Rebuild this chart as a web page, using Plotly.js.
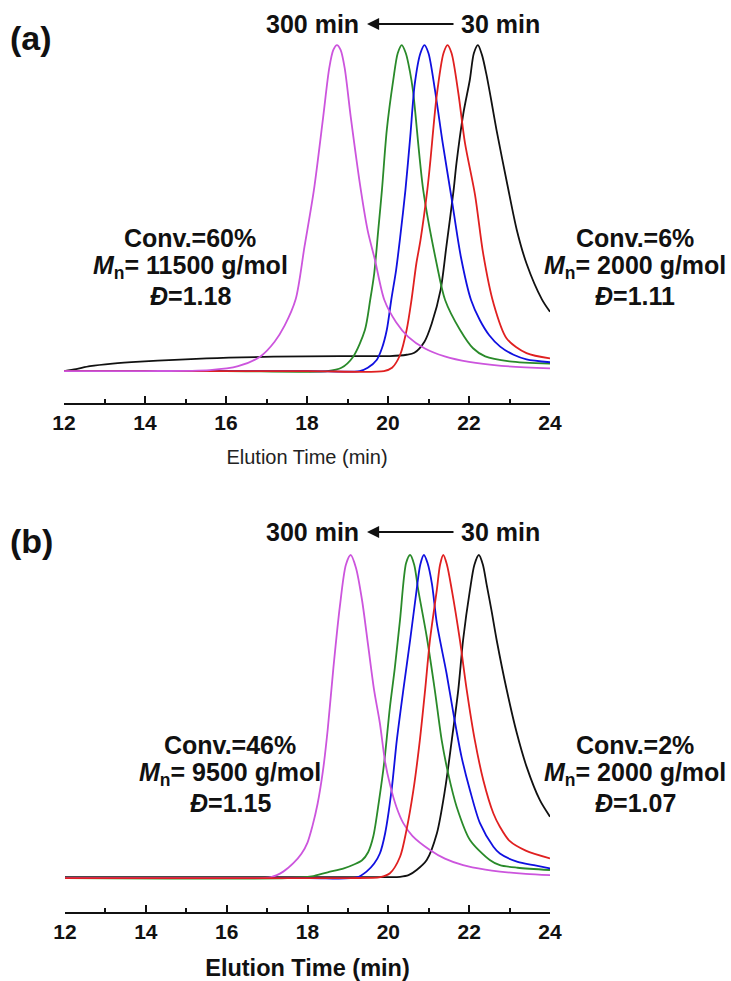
<!DOCTYPE html>
<html>
<head>
<meta charset="utf-8">
<script src="https://cdn.plot.ly/plotly-3.0.1.min.js"></script>
<style>html,body{margin:0;padding:0;background:#fff}#chart{width:731px;height:981px}</style>
</head>
<body>
<div id="chart"></div>
<script>
// ---------- Panel (a) data: elution time (min) and normalized RI intensity ----------
const aMagentaT = [12, 14, 15.6, 16.3, 16.85, 17.2, 17.45, 17.72, 17.94, 18.17, 18.4, 18.55, 18.65, 18.74, 18.83, 18.93, 19.08, 19.33, 19.5, 19.68, 19.91, 20.2, 20.5, 20.9, 21.4, 22.0, 22.8, 24];
const aMagentaV = [0, 0, 0.003, 0.015, 0.045, 0.09, 0.14, 0.22, 0.383, 0.555, 0.78, 0.93, 0.985, 1.0, 0.985, 0.93, 0.78, 0.555, 0.43, 0.34, 0.218, 0.15, 0.105, 0.07, 0.045, 0.028, 0.016, 0.008];
const aGreenT = [12, 16, 18.5, 18.85, 19.14, 19.43, 19.56, 19.66, 19.76, 19.85, 19.97, 20.13, 20.24, 20.34, 20.44, 20.54, 20.62, 20.87, 21.2, 21.41, 21.78, 22.1, 22.4, 23.0, 24];
const aGreenV = [0, 0, 0, 0.01, 0.044, 0.126, 0.218, 0.30, 0.433, 0.555, 0.739, 0.893, 0.975, 1.0, 0.975, 0.92, 0.857, 0.555, 0.33, 0.218, 0.126, 0.07, 0.045, 0.03, 0.023];
const aBlueT = [12, 18, 19.3, 19.5, 19.72, 19.85, 19.97, 20.08, 20.2, 20.3, 20.43, 20.55, 20.66, 20.8, 20.9, 21.0, 21.16, 21.35, 21.57, 21.8, 22.05, 22.27, 22.5, 22.77, 23.1, 23.42, 24];
const aBlueV = [0, 0, 0, 0.01, 0.034, 0.07, 0.126, 0.218, 0.31, 0.41, 0.555, 0.72, 0.88, 0.975, 1.0, 0.975, 0.862, 0.70, 0.53, 0.35, 0.218, 0.156, 0.11, 0.075, 0.05, 0.036, 0.027];
const aRedT = [12, 18, 19.9, 20.1, 20.3, 20.46, 20.58, 20.7, 20.8, 20.97, 21.04, 21.2, 21.37, 21.47, 21.57, 21.74, 21.9, 22.15, 22.35, 22.6, 22.93, 23.42, 24];
const aRedV = [0, 0, 0, 0.01, 0.05, 0.126, 0.218, 0.33, 0.40, 0.555, 0.637, 0.842, 0.975, 1.0, 0.975, 0.85, 0.70, 0.54, 0.36, 0.21, 0.10, 0.055, 0.039];
const aBlackT = [12, 12.3, 12.64, 13.2, 13.88, 15.52, 17.17, 18.81, 20.05, 20.46, 20.65, 20.9, 21.08, 21.3, 21.44, 21.62, 21.69, 21.86, 22.02, 22.12, 22.22, 22.32, 22.43, 22.55, 22.68, 22.95, 23.18, 23.42, 23.8, 24];
const aBlackV = [0, 0.006, 0.015, 0.023, 0.029, 0.039, 0.044, 0.046, 0.046, 0.05, 0.056, 0.09, 0.146, 0.25, 0.381, 0.555, 0.637, 0.79, 0.893, 0.975, 1.0, 0.97, 0.91, 0.83, 0.739, 0.57, 0.433, 0.33, 0.22, 0.182];

// ---------- Panel (b) data ----------
const bMagentaT = [12, 16, 17.1, 17.4, 17.65, 17.85, 18.0, 18.12, 18.25, 18.38, 18.5, 18.64, 18.8, 18.95, 19.07, 19.2, 19.35, 19.5, 19.65, 19.79, 19.92, 20.04, 20.2, 20.37, 20.6, 21.03, 21.4, 21.85, 22.4, 22.76, 23.4, 24];
const bMagentaV = [0, 0, 0.003, 0.02, 0.046, 0.075, 0.11, 0.16, 0.23, 0.33, 0.46, 0.65, 0.84, 0.97, 1.0, 0.96, 0.86, 0.72, 0.58, 0.48, 0.36, 0.29, 0.22, 0.17, 0.13, 0.087, 0.06, 0.04, 0.026, 0.02, 0.013, 0.009];
const bGreenT = [12, 17.5, 18.1, 18.5, 18.9, 19.15, 19.35, 19.5, 19.63, 19.77, 19.9, 20.04, 20.16, 20.29, 20.44, 20.54, 20.64, 20.74, 20.95, 21.15, 21.32, 21.48, 21.69, 22.02, 22.51, 22.76, 23.2, 24];
const bGreenV = [0, 0, 0.005, 0.018, 0.03, 0.042, 0.055, 0.08, 0.13, 0.24, 0.36, 0.53, 0.65, 0.80, 0.975, 1.0, 0.97, 0.892, 0.747, 0.582, 0.427, 0.324, 0.221, 0.118, 0.056, 0.04, 0.032, 0.025];
const bBlueT = [12, 18, 19.22, 19.46, 19.65, 19.79, 19.92, 20.08, 20.21, 20.37, 20.54, 20.7, 20.79, 20.88, 20.97, 21.08, 21.2, 21.44, 21.61, 21.81, 22.02, 22.27, 22.6, 22.76, 23.2, 23.6, 24];
const bBlueV = [0, 0, 0.002, 0.02, 0.045, 0.076, 0.138, 0.272, 0.427, 0.582, 0.737, 0.892, 0.97, 1.0, 0.975, 0.91, 0.789, 0.634, 0.51, 0.376, 0.272, 0.169, 0.097, 0.076, 0.05, 0.04, 0.03];
const bRedT = [12, 19, 19.8, 20.04, 20.29, 20.45, 20.62, 20.78, 20.91, 21.03, 21.2, 21.28, 21.36, 21.45, 21.57, 21.77, 21.94, 22.14, 22.35, 22.6, 22.76, 23.0, 23.4, 24];
const bRedV = [0, 0, 0.003, 0.015, 0.066, 0.149, 0.272, 0.427, 0.582, 0.737, 0.892, 0.97, 1.0, 0.97, 0.892, 0.737, 0.582, 0.427, 0.303, 0.2, 0.159, 0.115, 0.085, 0.061];
const bBlackT = [12, 16, 20.0, 20.29, 20.5, 20.7, 20.95, 21.2, 21.4, 21.57, 21.73, 21.85, 22.02, 22.13, 22.24, 22.34, 22.43, 22.55, 22.68, 22.93, 23.18, 23.42, 23.75, 24];
const bBlackV = [0.003, 0.003, 0.003, 0.004, 0.009, 0.025, 0.056, 0.138, 0.272, 0.427, 0.582, 0.737, 0.892, 0.97, 1.0, 0.97, 0.91, 0.83, 0.737, 0.582, 0.448, 0.345, 0.241, 0.19];

// ---------- Text ----------
const xTitle = "Elution Time (min)";
const tickVals = [12, 14, 16, 18, 20, 22, 24];
const tickText = ["12", "14", "16", "18", "20", "22", "24"];
const panelLabels = ["(a)", "(b)"];
const arrowFrom = "30 min", arrowTo = "300 min";
const aLeftText = ["Conv.=60%", "<i>M</i><sub>n</sub>= 11500 g/mol", "<i>Đ</i>=1.18"];
const aRightText = ["Conv.=6%", "<i>M</i><sub>n</sub>= 2000 g/mol", "<i>Đ</i>=1.11"];
const bLeftText = ["Conv.=46%", "<i>M</i><sub>n</sub>= 9500 g/mol", "<i>Đ</i>=1.15"];
const bRightText = ["Conv.=2%", "<i>M</i><sub>n</sub>= 2000 g/mol", "<i>Đ</i>=1.07"];

// ---------- Styling ----------
const W = 731, H = 981;
const FONT = "Arial, 'Liberation Sans', sans-serif";
const COL = {black: "#111111", green: "#2a8a2a", blue: "#1010e0", red: "#e02020", magenta: "#cc55dd"};
const px = x => x / W, py = y => 1 - y / H;

function tr(t, v, color, xa, ya) {
  return {x: t, y: v, type: "scatter", mode: "lines", xaxis: xa, yaxis: ya,
    line: {color: color, width: 1.8, shape: "spline", smoothing: 0.8}, hoverinfo: "skip", showlegend: false};
}
const data = [
  tr(aBlackT, aBlackV, COL.black, "x", "y"),
  tr(aGreenT, aGreenV, COL.green, "x", "y"),
  tr(aBlueT, aBlueV, COL.blue, "x", "y"),
  tr(aRedT, aRedV, COL.red, "x", "y"),
  tr(aMagentaT, aMagentaV, COL.magenta, "x", "y"),
  tr(bBlackT, bBlackV, COL.black, "x2", "y2"),
  tr(bGreenT, bGreenV, COL.green, "x2", "y2"),
  tr(bBlueT, bBlueV, COL.blue, "x2", "y2"),
  tr(bMagentaT, bMagentaV, COL.magenta, "x2", "y2"),
  tr(bRedT, bRedV, COL.red, "x2", "y2")
];

function xax(domain, anchor, titleFont, standoff) {
  return {domain: domain, anchor: anchor, range: [12, 24], tickmode: "array", tickvals: tickVals, ticktext: tickText,
    ticks: "inside", ticklen: 7, tickwidth: 2, tickcolor: "#111",
    minor: {ticks: "inside", dtick: 1, tick0: 12, ticklen: 4, tickwidth: 2, tickcolor: "#111"},
    showline: true, linewidth: 2, linecolor: "#111", showgrid: false, zeroline: false, fixedrange: true,
    tickfont: {family: FONT, size: 21, weight: "bold", color: "#111"},
    title: {text: xTitle, font: titleFont, standoff: standoff}};
}
function yax(domain, range) {
  return {domain: domain, range: range, visible: false, showgrid: false, zeroline: false, fixedrange: true};
}

const ann = [];
function txt(s, x, y, size, anchor) {
  ann.push({text: s, x: px(x), y: py(y), xref: "paper", yref: "paper", showarrow: false,
    xanchor: anchor || "center", yanchor: "middle", font: {family: FONT, size: size, weight: "bold", color: "#111"}});
}
function arrow(y) {
  ann.push({text: "", x: px(367), y: py(y), xref: "paper", yref: "paper", showarrow: true,
    ax: 88, ay: 0, arrowhead: 2, arrowsize: 1.1, arrowwidth: 2.2, arrowcolor: "#111"});
}
const lineYs = [0, 28.5, 57.5];
// panel a
txt(panelLabels[0], 31, 38, 34);
txt(arrowTo, 312, 24, 25); txt(arrowFrom, 500, 24, 25); arrow(24);
aLeftText.forEach((s, i) => txt(s, 190, 238 + lineYs[i], 25));
aRightText.forEach((s, i) => txt(s, 635, 238 + lineYs[i], 25));
// panel b
txt(panelLabels[1], 31, 541, 34);
txt(arrowTo, 312, 532, 25); txt(arrowFrom, 500, 532, 25); arrow(532);
bLeftText.forEach((s, i) => txt(s, 230, 745 + lineYs[i], 25));
bRightText.forEach((s, i) => txt(s, 635, 745 + lineYs[i], 25));

const layout = {
  width: W, height: H, margin: {l: 0, r: 0, t: 0, b: 0},
  paper_bgcolor: "#fff", plot_bgcolor: "rgba(0,0,0,0)", showlegend: false,
  xaxis: xax([px(64), px(550)], "y", {family: FONT, size: 20, color: "#222"}, 17),
  yaxis: yax([py(403), py(35)], [-0.098, 1.031]),
  xaxis2: xax([px(65), px(550)], "y2", {family: FONT, size: 23.5, weight: "bold", color: "#111"}, 17),
  yaxis2: yax([py(912), py(545)], [-0.105, 1.031]),
  annotations: ann
};
Plotly.newPlot("chart", data, layout, {staticPlot: true, displayModeBar: false});
</script>
</body>
</html>
